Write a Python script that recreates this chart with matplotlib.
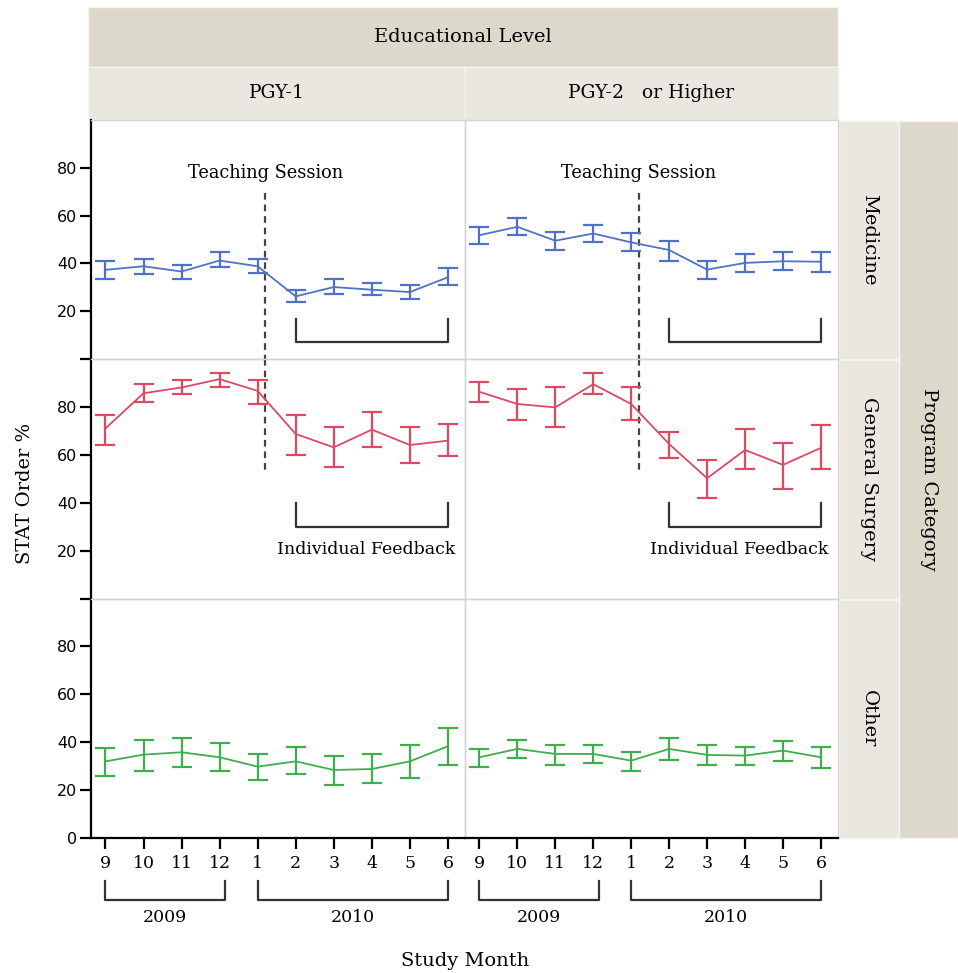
import matplotlib
matplotlib.use('Agg')
import matplotlib.pyplot as plt
from matplotlib.transforms import blended_transform_factory
import numpy as np

# ---------------- data ----------------
months = ['9', '10', '11', '12', '1', '2', '3', '4', '5', '6']
levels = ['PGY-1', 'PGY-2   or Higher']
categories = ['Medicine', 'General Surgery', 'Other']

med_pgy1 = [37.3, 38.8, 36.6, 41.2, 38.8, 26.2, 30.1, 29.0, 28.0, 34.2]
med_pgy1_lo = [33.5, 35.6, 33.5, 38.4, 35.9, 23.8, 27.3, 26.6, 25.2, 30.8]
med_pgy1_hi = [41.2, 41.9, 39.4, 44.9, 41.9, 28.7, 33.3, 31.7, 31.1, 38.1]

med_pgy2 = [51.8, 55.3, 49.5, 52.5, 48.8, 45.6, 37.4, 40.2, 40.9, 40.7]
med_pgy2_lo = [48.1, 51.8, 45.7, 48.8, 45.0, 41.2, 33.5, 36.3, 37.3, 36.6]
med_pgy2_hi = [55.4, 59.2, 53.2, 56.1, 52.9, 49.5, 41.2, 43.9, 44.6, 44.6]

gs_pgy1 = [71.0, 85.7, 88.1, 91.6, 86.7, 68.7, 63.1, 70.5, 64.1, 65.9]
gs_pgy1_lo = [64.1, 82.1, 85.3, 88.5, 81.4, 60.1, 54.8, 63.4, 56.5, 59.7]
gs_pgy1_hi = [76.7, 89.7, 91.1, 94.3, 91.1, 76.7, 71.4, 77.7, 71.4, 72.8]

gs_pgy2 = [86.3, 81.2, 79.8, 89.5, 81.2, 64.5, 50.2, 62.0, 55.8, 62.9]
gs_pgy2_lo = [82.2, 74.6, 71.4, 85.3, 74.6, 58.7, 41.9, 54.1, 45.8, 54.1]
gs_pgy2_hi = [90.6, 87.4, 88.4, 94.3, 88.4, 69.4, 57.9, 70.8, 64.8, 72.4]

oth_pgy1 = [32.0, 34.8, 35.8, 33.7, 29.8, 32.0, 28.4, 28.8, 32.0, 38.3]
oth_pgy1_lo = [26.0, 28.1, 29.5, 28.1, 24.4, 26.7, 22.2, 22.8, 25.1, 30.5]
oth_pgy1_hi = [37.4, 41.0, 41.7, 39.5, 35.1, 38.1, 34.1, 34.9, 38.8, 45.8]

oth_pgy2 = [33.7, 37.2, 35.1, 35.1, 32.3, 37.2, 34.7, 34.4, 36.5, 33.7]
oth_pgy2_lo = [29.8, 33.4, 30.5, 31.2, 28.1, 32.7, 30.5, 30.5, 32.0, 29.1]
oth_pgy2_hi = [37.2, 41.0, 38.8, 38.8, 35.8, 41.7, 38.8, 38.1, 40.3, 38.1]

y_ticks = [0, 20, 40, 60, 80]
years = ['2009', '2010']

series = [
    [(med_pgy1, med_pgy1_lo, med_pgy1_hi), (med_pgy2, med_pgy2_lo, med_pgy2_hi)],
    [(gs_pgy1, gs_pgy1_lo, gs_pgy1_hi), (gs_pgy2, gs_pgy2_lo, gs_pgy2_hi)],
    [(oth_pgy1, oth_pgy1_lo, oth_pgy1_hi), (oth_pgy2, oth_pgy2_lo, oth_pgy2_hi)],
]
colors = ['#4f72c8', '#dc4a62', '#3fae4c']

# ---------------- layout ----------------
W, H = 958, 973
fig = plt.figure(figsize=(W / 100, H / 100), dpi=100)
SERIF = ['DejaVu Serif']
SANS = ['DejaVu Sans']

def rect(x0, y0, x1, y1):
    return [x0 / W, 1 - y1 / H, (x1 - x0) / W, (y1 - y0) / H]

col_x = [(91, 465), (465, 838)]
row_y = [(120, 359), (359, 598.5), (598.5, 838)]
GRID = '#d4d4d4'
STRIP_DARK = '#dcd9cb'
STRIP_LIGHT = '#e9e7df'

def strip(x0, y0, x1, y1, color, text, rot=0, fs=13.5):
    a = fig.add_axes(rect(x0, y0, x1, y1))
    a.set_facecolor(color)
    a.set_xticks([]); a.set_yticks([])
    for s in a.spines.values():
        s.set_color('#f4f3ee'); s.set_linewidth(1.0)
    a.text(0.5, 0.5, text, rotation=rot, ha='center', va='center',
           fontsize=fs, family=SERIF, transform=a.transAxes)
    return a

strip(88, 7, 838, 67, STRIP_DARK, 'Educational Level', fs=14)
for j, (x0, x1) in enumerate(col_x):
    a = strip(x0 if j else 88, 67, x1, 120, STRIP_LIGHT, levels[j], fs=13.5)
for i, (y0, y1) in enumerate(row_y):
    strip(839, y0 + 1, 899, y1, STRIP_LIGHT, categories[i], rot=-90, fs=14)
strip(899, 121, 958, 838, STRIP_DARK, 'Program Category', rot=-90, fs=14)

x = np.arange(len(months))
axes = {}
for i, (y0, y1) in enumerate(row_y):
    for j, (x0, x1) in enumerate(col_x):
        ax = fig.add_axes(rect(x0, y0, x1, y1))
        axes[(i, j)] = ax
        ax.set_xlim(-0.38, 9.45)
        ax.set_ylim(0, 100)
        for s in ax.spines.values():
            s.set_color(GRID); s.set_linewidth(1.0)
        mean, lo, hi = series[i][j]
        mean = np.array(mean); lo = np.array(lo); hi = np.array(hi)
        ax.errorbar(x, mean, yerr=[mean - lo, hi - mean], color=colors[i],
                    lw=1.3, elinewidth=1.6, capsize=7, capthick=1.6, zorder=3)
        # y axis
        if j == 0:
            ax.spines['left'].set_color('black')
            ax.spines['left'].set_linewidth(1.6)
            ax.set_yticks(y_ticks)
            ax.set_yticklabels([str(t) if (t != 0 or i == 2) else '' for t in y_ticks],
                               family=SANS, fontsize=11.5)
            ax.tick_params(axis='y', length=8, width=1.6, pad=2)
        else:
            ax.set_yticks([])
        # x axis
        if i == 2:
            ax.spines['bottom'].set_color('black')
            ax.spines['bottom'].set_linewidth(1.6)
            ax.set_xticks(x)
            ax.set_xticklabels(months, family=SERIF, fontsize=12.5)
            ax.tick_params(axis='x', length=8, width=1.6, pad=4)
        else:
            ax.set_xticks([])
        ax.patch.set_alpha(0)

# Teaching session dashed line and labels, feedback brackets
ts = 4.2
for j in range(2):
    a1 = axes[(0, j)]
    a2 = axes[(1, j)]
    a1.plot([ts, ts], [69.5, 0], ls=(0, (3, 2.2)), color='#444444', lw=1.6,
            clip_on=False, zorder=2)
    a2.plot([ts, ts], [100, 53.5], ls=(0, (3, 2.2)), color='#444444', lw=1.6,
            clip_on=False, zorder=2)
    a1.text(ts, 78, 'Teaching Session', ha='center', va='center',
            fontsize=12.8, family=SERIF)
    a1.plot([5, 5, 9, 9], [16.7, 7, 7, 16.7], color='#333333', lw=1.6)
    a2.plot([5, 5, 9, 9], [40, 30, 30, 40], color='#333333', lw=1.6)
    a2.text(6.85, 20.4, 'Individual Feedback', ha='center', va='center',
            fontsize=12.5, family=SERIF)

# year brackets below x axis
for j in range(2):
    ax = axes[(2, j)]
    tr = blended_transform_factory(ax.transData, fig.transFigure)
    yt = 1 - 881 / H
    yb = 1 - 900 / H
    for (a, b), yr in zip([(0, 3.15), (4, 9)], years):
        ax.plot([a, a, b, b], [yt, yb, yb, yt], color='#333333', lw=1.6,
                transform=tr, clip_on=False)
        ax.text((a + b) / 2, 1 - 918 / H, yr, ha='center', va='center',
                fontsize=12.5, family=SERIF, transform=tr)

fig.text(465 / W, 1 - 961 / H, 'Study Month', ha='center', va='center',
         fontsize=14, family=SERIF)
fig.text(25 / W, 1 - 493 / H, 'STAT Order %', ha='center', va='center',
         rotation=90, fontsize=14, family=SERIF)

fig.savefig('out.png', dpi=100, facecolor='white')
